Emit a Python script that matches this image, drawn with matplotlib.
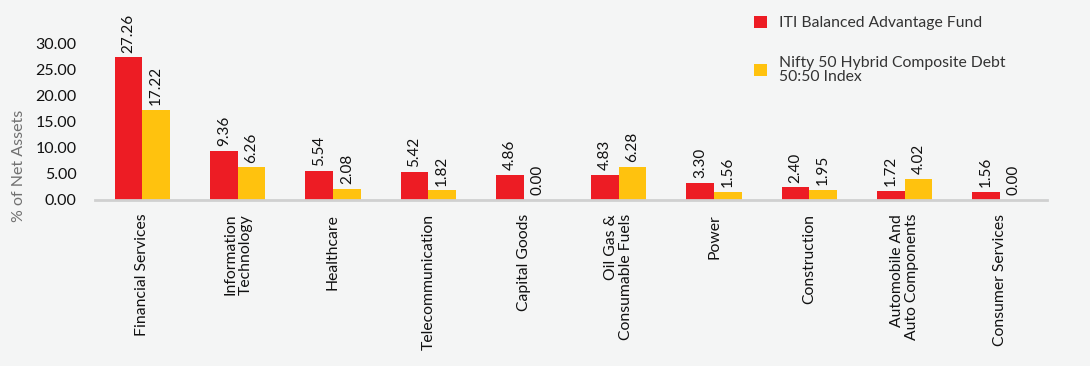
import matplotlib
matplotlib.use("Agg")
import matplotlib.pyplot as plt
import numpy as np

categories = ["Financial Services", "Information\nTechnology", "Healthcare", "Telecommunication",
              "Capital Goods", "Oil Gas &\nConsumable Fuels", "Power", "Construction",
              "Automobile And\nAuto Components", "Consumer Services"]
fund = [27.26, 9.36, 5.54, 5.42, 4.86, 4.83, 3.30, 2.40, 1.72, 1.56]
index = [17.22, 6.26, 2.08, 1.82, 0.00, 6.28, 1.56, 1.95, 4.02, 0.00]
series_names = ["ITI Balanced Advantage Fund", "Nifty 50 Hybrid Composite Debt\n50:50 Index"]
yticks = [0, 5, 10, 15, 20, 25, 30]

plt.rcParams['font.family'] = ['Lato', 'DejaVu Sans']
RED = "#ED1C24"
YEL = "#FFC20E"
BG = "#F4F5F5"

fig = plt.figure(figsize=(10.9, 3.66), dpi=100, facecolor=BG)
ax = fig.add_axes([0.087, 0.4536, 0.874, 0.4289], facecolor=BG)

x = np.arange(len(categories))
w = 0.29
b1 = ax.bar(x - w/2, fund, w, color=RED, label=series_names[0])
b2 = ax.bar(x + w/2, index, w, color=YEL, label=series_names[1])

for bars, vals in ((b1, fund), (b2, index)):
    for r, v in zip(bars, vals):
        ax.text(r.get_x() + r.get_width()/2, v + 0.9, f"{v:.2f}", rotation=90,
                ha="center", va="bottom", fontsize=11, color="#111111", clip_on=False)

ax.set_xlim(-0.5, len(categories) - 0.5)
ax.set_ylim(0, 30)
ax.set_yticks(yticks)
ax.set_yticklabels([f"{t:.2f}" for t in yticks], fontsize=11.5, color="#111111")
ax.set_xticks(x)
ax.set_xticklabels(categories, rotation=90, fontsize=11.3, color="#111111",
                   ha="center", va="top", multialignment="right", linespacing=1.1)
ax.tick_params(axis="both", length=0)
ax.tick_params(axis="x", pad=10)
ax.tick_params(axis="y", pad=13)
for s in ("top", "right", "left"):
    ax.spines[s].set_visible(False)
ax.spines["bottom"].set_color("#D0D0D0")
ax.spines["bottom"].set_linewidth(2)
ax.set_ylabel("% of Net Assets", fontsize=11.5, color="#707070")
ax.yaxis.set_label_coords(-0.072, 0.22)

leg = fig.legend(loc="upper left", bbox_to_anchor=(0.679, 0.995), frameon=False,
                 fontsize=11.3, handlelength=0.8, handleheight=0.8, labelspacing=1.6,
                 handletextpad=0.8, labelcolor="#333333")
for t in leg.get_texts():
    t.set_linespacing(1.05)

fig.savefig("out.png", dpi=100, facecolor=BG)
